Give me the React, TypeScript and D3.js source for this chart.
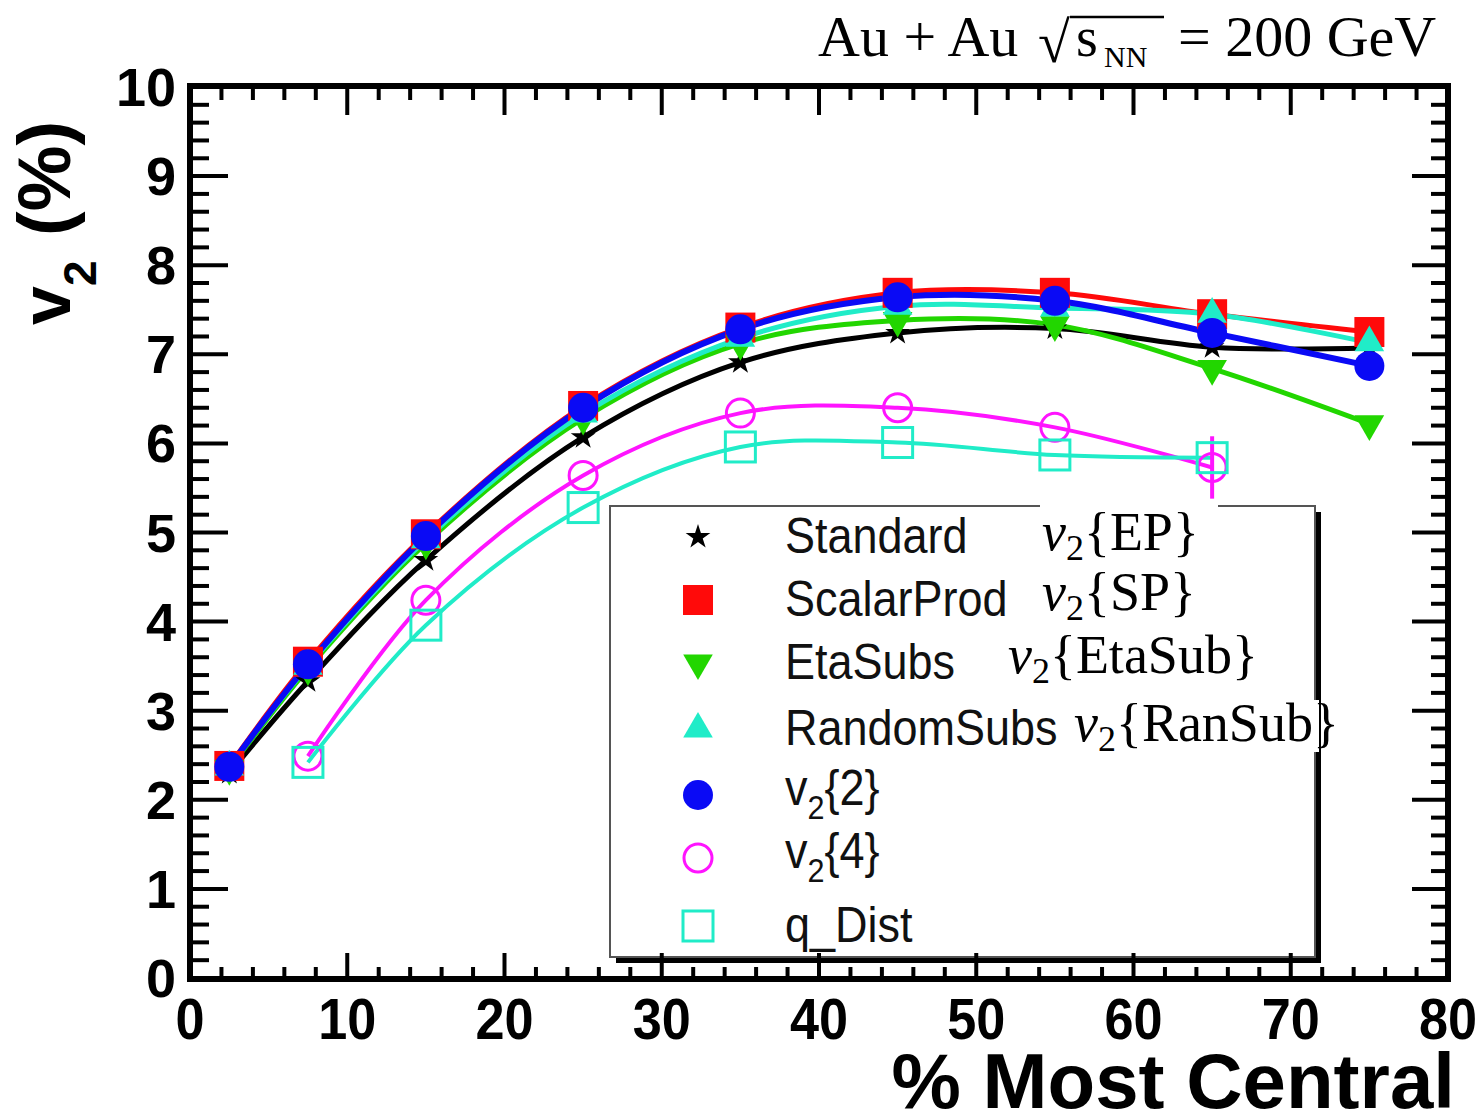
import React from "react";
import * as d3 from "d3";

// centrality bins (% most central)
const centrality = [2.5, 7.5, 15, 25, 35, 45, 55, 65, 75];
const centralityCumulant = [7.5, 15, 25, 35, 45, 55, 65];

const standardEP = [2.3, 3.33, 4.69, 6.07, 6.91, 7.24, 7.29, 7.08, 7.07];
const scalarProd = [2.38, 3.55, 4.98, 6.42, 7.3, 7.69, 7.69, 7.45, 7.25];
const etaSubs = [2.35, 3.47, 4.88, 6.28, 7.12, 7.38, 7.33, 6.84, 6.22];
const randomSubs = [2.37, 3.5, 4.92, 6.33, 7.18, 7.54, 7.52, 7.45, 7.13];
const v2Two = [2.37, 3.52, 4.96, 6.4, 7.28, 7.64, 7.6, 7.24, 6.87];
const v2Four = [2.49, 4.24, 5.64, 6.34, 6.4, 6.18, 5.73];
const v2FourErr = [0, 0, 0, 0, 0, 0, 0.35];
const qDist = [2.42, 3.96, 5.28, 5.96, 6.01, 5.87, 5.84];

const xTicks = [0, 10, 20, 30, 40, 50, 60, 70, 80];
const yTicks = [0, 1, 2, 3, 4, 5, 6, 7, 8, 9, 10];

const W = 1482;
const H = 1117;
const L = 190, R = 1448, T = 87, B = 978;

const RED = "#ff0a0a";
const GREEN = "#22d600";
const TURQ = "#20ecc8";
const BLUE = "#0a0af5";
const MAG = "#ff14ff";

const x = d3.scaleLinear().domain([0, 80]).range([L, R]);
const y = d3.scaleLinear().domain([0, 10]).range([B, T]);

const curve = d3.line<[number, number]>()
  .x(d => x(d[0]))
  .y(d => y(d[1]))
  .curve(d3.curveCatmullRom.alpha(0.5));

const zip = (xs: number[], ys: number[]) => xs.map((v, i) => [v, ys[i]] as [number, number]);

const star = d3.symbol().type(d3.symbolStar).size(190)();
const tri = d3.symbol().type(d3.symbolTriangle).size(380)();

type Kind = "star" | "square" | "down" | "up" | "dot" | "ring" | "box";

function Marker({ kind, cx, cy, color }: { kind: Kind; cx: number; cy: number; color: string }) {
  switch (kind) {
    case "star":
      return <path d={star!} transform={`translate(${cx},${cy})`} fill={color} />;
    case "square":
      return <rect x={cx - 15} y={cy - 15} width={30} height={30} fill={color} />;
    case "down":
      return <path d={tri!} transform={`translate(${cx},${cy}) rotate(180)`} fill={color} />;
    case "up":
      return <path d={tri!} transform={`translate(${cx},${cy})`} fill={color} />;
    case "dot":
      return <circle cx={cx} cy={cy} r={15} fill={color} />;
    case "ring":
      return <circle cx={cx} cy={cy} r={14} fill="none" stroke={color} strokeWidth={3} />;
    default:
      return <rect x={cx - 15} y={cy - 15} width={30} height={30} fill="none" stroke={color} strokeWidth={3} />;
  }
}

const series = [
  { name: "Standard", kind: "star" as Kind, color: "#000", xs: centrality, ys: standardEP, w: 5 },
  { name: "ScalarProd", kind: "square" as Kind, color: RED, xs: centrality, ys: scalarProd, w: 5 },
  { name: "EtaSubs", kind: "down" as Kind, color: GREEN, xs: centrality, ys: etaSubs, w: 5 },
  { name: "RandomSubs", kind: "up" as Kind, color: TURQ, xs: centrality, ys: randomSubs, w: 5 },
  { name: "v2{2}", kind: "dot" as Kind, color: BLUE, xs: centrality, ys: v2Two, w: 6 },
  { name: "v2{4}", kind: "ring" as Kind, color: MAG, xs: centralityCumulant, ys: v2Four, w: 4 },
  { name: "q_Dist", kind: "box" as Kind, color: TURQ, xs: centralityCumulant, ys: qDist, w: 4 },
];

const legendRows = [537, 600, 663, 729, 795, 858, 926];

function SansLabel({ x0, y0, children, size = 50 }: { x0: number; y0: number; children: React.ReactNode; size?: number }) {
  return (
    <g transform={`translate(${x0},${y0}) scale(0.9,1)`}>
      <text fontFamily="'Liberation Sans', Arial, sans-serif" fontSize={size} fill="#111">{children}</text>
    </g>
  );
}

function MathLabel({ x0, y0, arg }: { x0: number; y0: number; arg: string }) {
  return (
    <text x={x0} y={y0} fontFamily="'Liberation Serif', 'DejaVu Serif', serif" fontSize={54} fill="#000">
      <tspan fontStyle="italic">v</tspan>
      <tspan fontSize={36} dy={10}>2</tspan>
      <tspan dy={-10}>{"{" + arg + "}"}</tspan>
    </text>
  );
}

export default function App() {
  const yMinor = d3.range(0, 10.001, 0.2).filter(v => Math.abs(v - Math.round(v)) > 0.01);
  const xMinor = d3.range(0, 80.001, 2).filter(v => v % 10 !== 0);

  return (
    <svg width={W} height={H} style={{ position: "absolute", left: 0, top: 0, background: "#fff" }}>
      {/* title */}
      <g fontFamily="'Liberation Serif', 'DejaVu Serif', serif" fill="#000">
        <text x={818} y={56} fontSize={58}>Au + Au</text>
        <text x={1038} y={62} fontSize={58}>√</text>
        <line x1={1070} x2={1164} y1={17} y2={17} stroke="#000" strokeWidth={2.5} />
        <text x={1076} y={56} fontSize={56}>s</text>
        <text x={1104} y={67} fontSize={30}>NN</text>
        <text x={1178} y={56} fontSize={58}>= 200 GeV</text>
      </g>

      {/* curves */}
      {series.map(s => (
        <path key={s.name} d={curve(zip(s.xs, s.ys))!} fill="none" stroke={s.color} strokeWidth={s.w} />
      ))}
      {/* v2{4} error bars */}
      {centralityCumulant.map((c, i) => v2FourErr[i] > 0 && (
        <line key={c} x1={x(c)} x2={x(c)} y1={y(v2Four[i] - v2FourErr[i])} y2={y(v2Four[i] + v2FourErr[i])} stroke={MAG} strokeWidth={4} />
      ))}
      {/* markers */}
      {series.map(s => (
        <g key={s.name}>
          {s.xs.map((c, i) => <Marker key={c} kind={s.kind} cx={x(c)} cy={y(s.ys[i])} color={s.color} />)}
        </g>
      ))}

      {/* legend */}
      <rect x={616} y={512} width={705} height={451} fill="#000" />
      <rect x={610} y={506} width={705} height={451} fill="#fff" stroke="#555" strokeWidth={2} />
      {series.map((s, i) => (
        <Marker key={s.name} kind={s.kind} cx={698} cy={legendRows[i]} color={s.color} />
      ))}
      <SansLabel x0={785} y0={553}>Standard</SansLabel>
      <SansLabel x0={785} y0={616}>ScalarProd</SansLabel>
      <SansLabel x0={785} y0={679}>EtaSubs</SansLabel>
      <SansLabel x0={785} y0={745}>RandomSubs</SansLabel>
      <SansLabel x0={785} y0={805}>
        v<tspan fontSize={34} dy={14}>2</tspan><tspan dy={-14}>{"{2}"}</tspan>
      </SansLabel>
      <SansLabel x0={785} y0={868}>
        v<tspan fontSize={34} dy={14}>2</tspan><tspan dy={-14}>{"{4}"}</tspan>
      </SansLabel>
      <SansLabel x0={785} y0={942}>q_Dist</SansLabel>
      <rect x={1040} y={500} width={178} height={62} fill="#fff" />
      <MathLabel x0={1042} y0={550} arg="EP" />
      <MathLabel x0={1042} y0={610} arg="SP" />
      <MathLabel x0={1008} y0={673} arg="EtaSub" />
      <rect x={1073} y={700} width={246} height={52} fill="#fff" />
      <MathLabel x0={1074} y0={741} arg="RanSub" />

      {/* frame and ticks */}
      <g stroke="#000" strokeWidth={4}>
        {yTicks.map(t => (
          <g key={"y" + t}>
            <line x1={L} x2={L + 38} y1={y(t)} y2={y(t)} />
            <line x1={R} x2={R - 36} y1={y(t)} y2={y(t)} />
          </g>
        ))}
        {yMinor.map(t => (
          <g key={"ym" + t}>
            <line x1={L} x2={L + 19} y1={y(t)} y2={y(t)} />
            <line x1={R} x2={R - 17} y1={y(t)} y2={y(t)} />
          </g>
        ))}
        {xTicks.map(t => (
          <g key={"x" + t}>
            <line x1={x(t)} x2={x(t)} y1={T} y2={T + 28} />
            <line x1={x(t)} x2={x(t)} y1={B} y2={B - 25} />
          </g>
        ))}
        {xMinor.map(t => (
          <g key={"xm" + t}>
            <line x1={x(t)} x2={x(t)} y1={T} y2={T + 13} />
            <line x1={x(t)} x2={x(t)} y1={B} y2={B - 11} />
          </g>
        ))}
      </g>
      <rect x={L} y={T - 1} width={R - L} height={B - T + 2} fill="none" stroke="#000" strokeWidth={6} />

      {/* tick labels */}
      <g fontFamily="'Liberation Sans', Arial, sans-serif" fontWeight="bold" fill="#000">
        {yTicks.map(t => (
          <text key={t} x={176} y={y(t) + 19} fontSize={54} textAnchor="end">{t}</text>
        ))}
        {xTicks.map(t => (
          <g key={t} transform={`translate(${x(t)},${1039}) scale(0.9,1)`}>
            <text fontSize={58} textAnchor="middle">{t}</text>
          </g>
        ))}
        <text x={1455} y={1108} fontSize={78} textAnchor="end">% Most Central</text>
        <text transform="translate(70,325) rotate(-90)" fontSize={70}>
          v<tspan fontSize={46} dy={26}>2</tspan><tspan dy={-26} dx={4} fontSize={74}> (%)</tspan>
        </text>
      </g>
    </svg>
  );
}
